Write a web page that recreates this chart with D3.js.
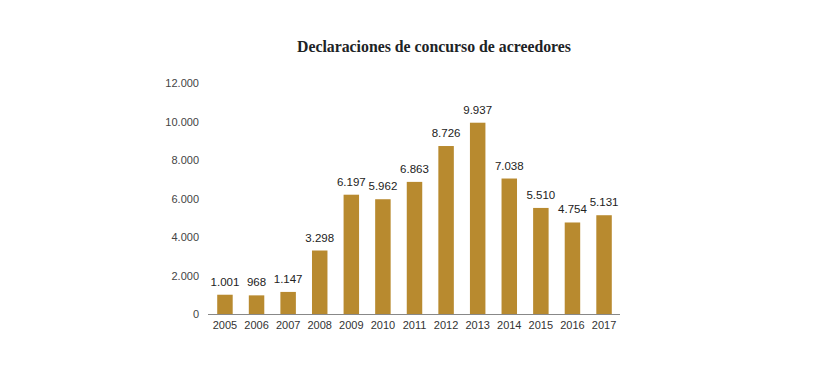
<!DOCTYPE html>
<html>
<head>
<meta charset="utf-8">
<script src="https://cdn.jsdelivr.net/npm/d3@7"></script>
<style>
  body { margin: 0; background: #fff; }
  svg text { font-family: "Liberation Sans", Arial, sans-serif; }
</style>
</head>
<body>
<div id="chart"></div>
<script>
// Datos
const years = ["2005", "2006", "2007", "2008", "2009", "2010", "2011", "2012", "2013", "2014", "2015", "2016", "2017"];
const declaraciones = [1001, 968, 1147, 3298, 6197, 5962, 6863, 8726, 9937, 7038, 5510, 4754, 5131];
const yTicks = [0, 2000, 4000, 6000, 8000, 10000, 12000];

const width = 826, height = 376;
const fmt = d3.formatLocale({ decimal: ",", thousands: ".", grouping: [3], currency: ["", "€"] }).format(",d");

const svg = d3.select("#chart")
    .append("svg")
    .attr("width", width)
    .attr("height", height);

const x = d3.scaleBand()
    .domain(years)
    .range([209, 620])
    .paddingInner(0.51)
    .paddingOuter(0.26);

const y = d3.scaleLinear()
    .domain([0, 12000])
    .range([314, 83]);

// Titulo
svg.append("text")
    .attr("x", 434)
    .attr("y", 52)
    .attr("text-anchor", "middle")
    .style("font-family", "'Liberation Serif', 'DejaVu Serif', serif")
    .style("font-weight", "bold")
    .style("font-size", "15.8px")
    .style("fill", "#1d2326")
    .text("Declaraciones de concurso de acreedores");

// Eje Y (solo etiquetas)
svg.append("g")
    .selectAll("text")
    .data(yTicks)
    .join("text")
    .attr("x", 199)
    .attr("y", d => y(d) + 4)
    .attr("text-anchor", "end")
    .style("font-size", "11px")
    .style("fill", "#444")
    .text(d => fmt(d));

// Barras
svg.append("g")
    .selectAll("rect")
    .data(declaraciones)
    .join("rect")
    .attr("x", (d, i) => x(years[i]))
    .attr("y", d => y(d))
    .attr("width", x.bandwidth())
    .attr("height", d => y(0) - y(d))
    .attr("fill", "#b88a2f");

// Valores
svg.append("g")
    .selectAll("text")
    .data(declaraciones)
    .join("text")
    .attr("x", (d, i) => x(years[i]) + x.bandwidth() / 2)
    .attr("y", d => y(d) - 9)
    .attr("text-anchor", "middle")
    .style("font-size", "11.5px")
    .style("fill", "#222")
    .text(d => fmt(d));

// Linea base
svg.append("line")
    .attr("x1", 208)
    .attr("x2", 620)
    .attr("y1", y(0) + 0.5)
    .attr("y2", y(0) + 0.5)
    .attr("stroke", "#888")
    .attr("stroke-width", 1);

// Eje X
svg.append("g")
    .selectAll("text")
    .data(years)
    .join("text")
    .attr("x", d => x(d) + x.bandwidth() / 2)
    .attr("y", 329)
    .attr("text-anchor", "middle")
    .style("font-size", "11px")
    .style("fill", "#333")
    .text(d => d);
</script>
</body>
</html>
